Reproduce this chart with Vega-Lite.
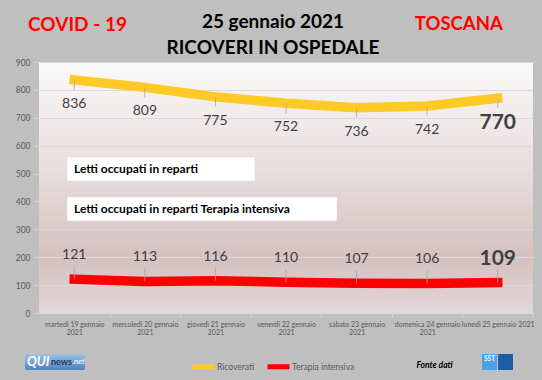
{
  "$schema": "https://vega.github.io/schema/vega-lite/v6.json",
  "width": 494,
  "height": 251,
  "autosize": {"type": "none"},
  "padding": {"left": 39, "top": 62, "right": 9, "bottom": 67},
  "background": "#bfbfbf",
  "config": {
    "font": "Lato",
    "locale": {
      "time": {
        "dateTime": "%A %e %B %Y, %X", "date": "%d/%m/%Y", "time": "%H:%M:%S",
        "periods": ["AM", "PM"],
        "days": ["domenica", "lunedì", "martedì", "mercoledì", "giovedì", "venerdì", "sabato"],
        "shortDays": ["dom", "lun", "mar", "mer", "gio", "ven", "sab"],
        "months": ["gennaio", "febbraio", "marzo", "aprile", "maggio", "giugno", "luglio", "agosto", "settembre", "ottobre", "novembre", "dicembre"],
        "shortMonths": ["gen", "feb", "mar", "apr", "mag", "giu", "lug", "ago", "set", "ott", "nov", "dic"]
      }
    },
    "view": {
      "stroke": null,
      "fill": {"gradient": "linear", "x1": 0, "y1": 0, "x2": 0, "y2": 1,
        "stops": [
          {"offset": 0, "color": "#faf9f9"},
          {"offset": 0.45, "color": "#e8dcdc"},
          {"offset": 0.78, "color": "#d5c0c0"},
          {"offset": 1, "color": "#e3d7d7"}
        ]}
    },
    "axisY": {"labelOverlap": false, "tickCount": 10}
  },
  "title": {
    "text": ["25 gennaio 2021", "RICOVERI IN OSPEDALE"],
    "font": "Lato", "fontSize": 19, "fontWeight": "bold", "color": "#000000",
    "lineHeight": 26, "anchor": "middle", "dx": -13, "offset": -43
  },
  "data": {"values": [
    {"giorno": "2021-01-19", "Ricoverati": 836, "Terapia intensiva": 121},
    {"giorno": "2021-01-20", "Ricoverati": 809, "Terapia intensiva": 113},
    {"giorno": "2021-01-21", "Ricoverati": 775, "Terapia intensiva": 116},
    {"giorno": "2021-01-22", "Ricoverati": 752, "Terapia intensiva": 110},
    {"giorno": "2021-01-23", "Ricoverati": 736, "Terapia intensiva": 107},
    {"giorno": "2021-01-24", "Ricoverati": 742, "Terapia intensiva": 106},
    {"giorno": "2021-01-25", "Ricoverati": 770, "Terapia intensiva": 109}
  ]},
  "layer": [
    {
      "encoding": {
        "x": {
          "field": "giorno", "type": "temporal",
          "scale": {"type": "utc", "domain": [
            {"year": 2021, "month": 1, "date": 18, "hours": 12, "utc": true},
            {"year": 2021, "month": 1, "date": 25, "hours": 12, "utc": true}
          ]},
          "axis": {
            "title": null, "labelAngle": 0, "labelFont": "Lato", "labelFontSize": 7,
            "labelColor": "#595959", "labelLineHeight": 8.5, "labelPadding": 3,
            "labelOverlap": false, "labelBound": false, "labelFlush": false, "labelLimit": 0,
            "labelAlign": "center",
            "values": [
              {"year": 2021, "month": 1, "date": 19, "utc": true},
              {"year": 2021, "month": 1, "date": 20, "utc": true},
              {"year": 2021, "month": 1, "date": 21, "utc": true},
              {"year": 2021, "month": 1, "date": 22, "utc": true},
              {"year": 2021, "month": 1, "date": 23, "utc": true},
              {"year": 2021, "month": 1, "date": 24, "utc": true},
              {"year": 2021, "month": 1, "date": 25, "utc": true}
            ],
            "format": "%A %-d %B %Y",
            "labelExpr": "datum.index == 1 ? datum.label : [slice(datum.label, 0, -5), '2021']",
            "ticks": true, "tickColor": "#d4d4d4", "tickSize": 4, "tickOffset": 35.3, "labelOffset": -35.3,
            "domain": false, "grid": false
          }
        },
        "y": {
          "field": "valore", "type": "quantitative",
          "scale": {"domain": [0, 900], "nice": false},
          "axis": {
            "title": null, "values": [0, 100, 200, 300, 400, 500, 600, 700, 800, 900],
            "tickCount": 10, "labelOverlap": false,
            "grid": true, "gridColor": "#d9d9d9", "gridWidth": 1,
            "domain": false, "ticks": true, "tickColor": "#d4d4d4", "tickSize": 5,
            "labelFont": "Lato", "labelFontSize": 8.5, "labelColor": "#595959", "labelPadding": 4
          }
        }
      },
      "layer": [
        {
          "transform": [{"fold": ["Ricoverati", "Terapia intensiva"], "as": ["serie", "valore"]}],
          "mark": {"type": "line", "strokeWidth": 9.5, "strokeCap": "square"},
          "encoding": {
            "color": {
              "field": "serie", "type": "nominal",
              "scale": {"domain": ["Ricoverati", "Terapia intensiva"], "range": ["#ffc926", "#ff0000"]},
              "legend": {
                "orient": "none", "legendX": 151, "legendY": 291, "direction": "horizontal",
                "title": null, "symbolType": "stroke", "symbolStrokeWidth": 5, "symbolSize": 484,
                "labelFont": "Lato", "labelFontSize": 8.5, "labelColor": "#595959",
                "columnPadding": 2, "labelOffset": 0
              }
            }
          }
        },
        {
          "transform": [{"fold": ["Ricoverati"], "as": ["serie", "valore"]}],
          "mark": {"type": "rule", "color": "#a6a6a6", "strokeWidth": 0.8, "y2Offset": 10},
          "encoding": {"y2": {"field": "valore"}}
        },
        {
          "transform": [{"fold": ["Terapia intensiva"], "as": ["serie", "valore"]}],
          "mark": {"type": "rule", "color": "#a6a6a6", "strokeWidth": 0.8, "y2Offset": -13},
          "encoding": {"y2": {"field": "valore"}}
        },
        {
          "transform": [{"fold": ["Ricoverati"], "as": ["serie", "valore"]}, {"filter": "utcdate(datum.giorno) != 25"}],
          "mark": {"type": "text", "dy": 24, "fontSize": 14, "font": "Lato", "color": "#404040", "baseline": "middle"},
          "encoding": {"text": {"field": "valore", "type": "quantitative"}}
        },
        {
          "transform": [{"fold": ["Ricoverati"], "as": ["serie", "valore"]}, {"filter": "utcdate(datum.giorno) == 25"}],
          "mark": {"type": "text", "dy": 24.7, "fontSize": 21, "fontWeight": "bold", "font": "Lato", "color": "#404040", "baseline": "middle"},
          "encoding": {"text": {"field": "valore", "type": "quantitative"}}
        },
        {
          "transform": [{"fold": ["Terapia intensiva"], "as": ["serie", "valore"]}, {"filter": "utcdate(datum.giorno) != 25"}],
          "mark": {"type": "text", "dy": -24, "fontSize": 14, "font": "Lato", "color": "#404040", "baseline": "middle"},
          "encoding": {"text": {"field": "valore", "type": "quantitative"}}
        },
        {
          "transform": [{"fold": ["Terapia intensiva"], "as": ["serie", "valore"]}, {"filter": "utcdate(datum.giorno) == 25"}],
          "mark": {"type": "text", "dy": -23.3, "fontSize": 21, "fontWeight": "bold", "font": "Lato", "color": "#404040", "baseline": "middle"},
          "encoding": {"text": {"field": "valore", "type": "quantitative"}}
        }
      ]
    },
    {
      "data": {"values": [{"testo": "Letti occupati in reparti"}]},
      "mark": {"type": "rect", "fill": "#ffffff", "stroke": "#d9d9d9", "strokeWidth": 0.5},
      "encoding": {
        "x": {"datum": 1611005501000, "type": "temporal"},
        "x2": {"datum": 1611235670400},
        "y": {"datum": 473.4, "type": "quantitative"},
        "y2": {"datum": 559.4}
      }
    },
    {
      "data": {"values": [{"testo": "Letti occupati in reparti Terapia intensiva"}]},
      "mark": {"type": "rect", "fill": "#ffffff", "stroke": "#d9d9d9", "strokeWidth": 0.5},
      "encoding": {
        "x": {"datum": 1611005501000, "type": "temporal"},
        "x2": {"datum": 1611336067200},
        "y": {"datum": 329.9, "type": "quantitative"},
        "y2": {"datum": 416}
      }
    },
    {
      "data": {"values": [{"testo": "Letti occupati in reparti"}]},
      "mark": {"type": "text", "font": "Lato", "fontSize": 12, "fontWeight": "bold", "color": "#000000", "align": "left", "baseline": "middle"},
      "encoding": {
        "text": {"field": "testo"},
        "x": {"datum": 1611014054400, "type": "temporal"},
        "y": {"datum": 516.3, "type": "quantitative"}
      }
    },
    {
      "data": {"values": [{"testo": "Letti occupati in reparti Terapia intensiva"}]},
      "mark": {"type": "text", "font": "Lato", "fontSize": 12, "fontWeight": "bold", "color": "#000000", "align": "left", "baseline": "middle"},
      "encoding": {
        "text": {"field": "testo"},
        "x": {"datum": 1611014054400, "type": "temporal"},
        "y": {"datum": 372.9, "type": "quantitative"}
      }
    },
    {
      "data": {"values": [{"testo": "COVID - 19"}]},
      "mark": {"type": "text", "font": "Lato", "fontSize": 19, "fontWeight": "bold", "color": "#ff0000", "align": "center", "baseline": "middle"},
      "encoding": {
        "text": {"field": "testo"},
        "x": {"datum": 1611018339840, "type": "temporal"},
        "y": {"datum": 1033.8, "type": "quantitative"}
      }
    },
    {
      "data": {"values": [{"testo": "TOSCANA"}]},
      "mark": {"type": "text", "font": "Lato", "fontSize": 18.5, "fontWeight": "bold", "color": "#ff0000", "align": "center", "baseline": "middle"},
      "encoding": {
        "text": {"field": "testo"},
        "x": {"datum": 1611485193600, "type": "temporal"},
        "y": {"datum": 1035, "type": "quantitative"}
      }
    },
    {
      "data": {"values": [{"testo": "Fonte dati"}]},
      "mark": {"type": "text", "font": "Lato", "fontSize": 8.5, "fontWeight": "bold", "fontStyle": "italic", "color": "#000000", "align": "center", "baseline": "middle"},
      "encoding": {
        "text": {"field": "testo"},
        "x": {"datum": 1611455472000, "type": "temporal"},
        "y": {"datum": -186.5, "type": "quantitative"}
      }
    },
    {
      "data": {"values": [{"testo": "QUInews.net"}]},
      "mark": {"type": "rect", "cornerRadius": 2, "fill": {"gradient": "linear", "x1": 0, "y1": 0, "x2": 0, "y2": 1, "stops": [{"offset": 0, "color": "#9cc0e8"}, {"offset": 1, "color": "#4f82c0"}]}},
      "encoding": {
        "x": {"datum": 1610954092800, "type": "temporal"},
        "x2": {"datum": 1611027532800},
        "y": {"datum": -147, "type": "quantitative"},
        "y2": {"datum": -204.4}
      }
    },
    {
      "data": {"values": [{"testo": "QUI"}]},
      "mark": {"type": "text", "font": "Lato", "fontSize": 13, "fontWeight": "bold", "fontStyle": "italic", "color": "#ffffff", "align": "left", "baseline": "middle"},
      "encoding": {
        "text": {"field": "testo"},
        "x": {"datum": 1610956512000, "type": "temporal"},
        "y": {"datum": -175.7, "type": "quantitative"}
      }
    },
    {
      "data": {"values": [{"testo": "news"}]},
      "mark": {"type": "text", "font": "Lato", "fontSize": 9, "fontWeight": "bold", "color": "#1f3a66", "align": "left", "baseline": "middle"},
      "encoding": {
        "text": {"field": "testo"},
        "x": {"datum": 1610985888000, "type": "temporal"},
        "y": {"datum": -177, "type": "quantitative"}
      }
    },
    {
      "data": {"values": [{"testo": ".net"}]},
      "mark": {"type": "text", "font": "Lato", "fontSize": 8, "fontStyle": "italic", "color": "#ffffff", "align": "left", "baseline": "middle"},
      "encoding": {
        "text": {"field": "testo"},
        "x": {"datum": 1611011808000, "type": "temporal"},
        "y": {"datum": -177, "type": "quantitative"}
      }
    },
    {
      "data": {"values": [{"testo": "SST"}]},
      "mark": {"type": "rect", "fill": "#4aa3e8"},
      "encoding": {
        "x": {"datum": 1611513532800, "type": "temporal"},
        "x2": {"datum": 1611531936000},
        "y": {"datum": -147, "type": "quantitative"},
        "y2": {"datum": -204.4}
      }
    },
    {
      "data": {"values": [{"testo": "Servizio Sanitario della Toscana"}]},
      "mark": {"type": "rect", "fill": "#1b5ea8"},
      "encoding": {
        "x": {"datum": 1611533232000, "type": "temporal"},
        "x2": {"datum": 1611551548800},
        "y": {"datum": -147, "type": "quantitative"},
        "y2": {"datum": -204.4}
      }
    },
    {
      "data": {"values": [{"testo": "SST"}]},
      "mark": {"type": "text", "font": "Lato", "fontSize": 6.5, "fontWeight": "bold", "color": "#ffffff", "align": "center", "baseline": "middle"},
      "encoding": {
        "text": {"field": "testo"},
        "x": {"datum": 1611522777600, "type": "temporal"},
        "y": {"datum": -164.9, "type": "quantitative"}
      }
    }
  ]
}
